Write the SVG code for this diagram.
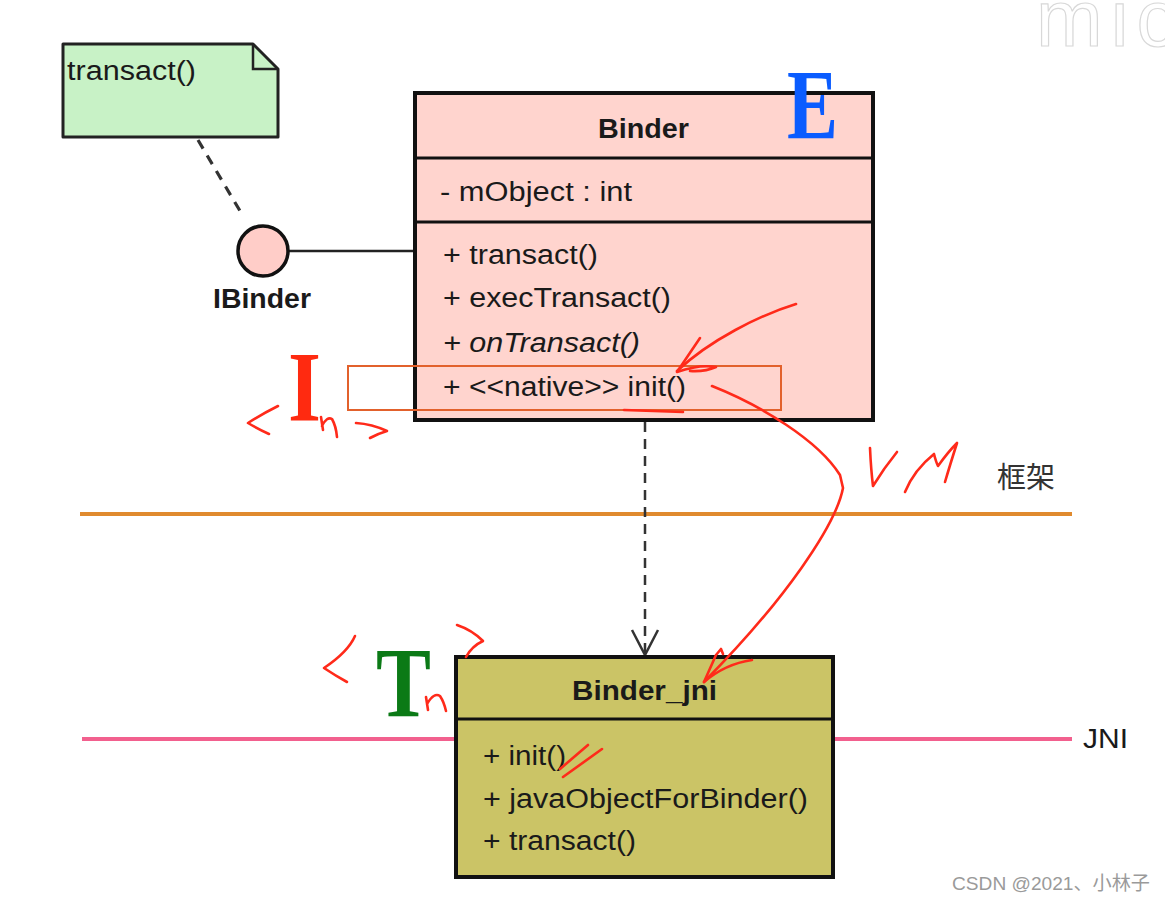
<svg xmlns="http://www.w3.org/2000/svg" width="1165" height="902" viewBox="0 0 1165 902">
<defs>
<style>
.t{font-family:"Liberation Sans",Arial,sans-serif;font-size:27px;fill:#1a1a1a}
.b{font-weight:bold}
.box{stroke:#111;stroke-width:4}
.sep{stroke:#111;stroke-width:3}
.ink{fill:none;stroke:#ff2a1a;stroke-width:2.6;stroke-linecap:round;stroke-linejoin:round}
.big{font-family:"Liberation Serif","Times New Roman",serif;font-weight:bold;font-size:100px}
</style>
</defs>
<rect width="1165" height="902" fill="#ffffff"/>

<g id="watermark">
<text x="1036" y="46" font-family="Liberation Sans,Arial,sans-serif" font-size="80" letter-spacing="8" fill="#ffffff" stroke="#d8d8d8" stroke-width="1.2">mic</text>
<text x="952" y="890" font-family="Liberation Sans,Arial,'Noto Sans CJK SC',sans-serif" font-size="19" fill="#9a9a9a" textLength="198" lengthAdjust="spacingAndGlyphs">CSDN @2021、小林子</text>
</g>

<g id="layers">
<line x1="80" y1="514" x2="1072" y2="514" stroke="#e08a2e" stroke-width="4"/>
<text x="997" y="488" font-family="'Noto Sans CJK SC',sans-serif" font-size="29" fill="#333">框架</text>
<line x1="82" y1="739" x2="1072" y2="739" stroke="#f2608e" stroke-width="4"/>
<text class="t" x="1083" y="748" textLength="45" lengthAdjust="spacingAndGlyphs">JNI</text>
</g>

<g id="connectors">
<line x1="198" y1="140" x2="243" y2="216" stroke="#333" stroke-width="3.2" stroke-dasharray="10,8"/>
<line x1="289" y1="251" x2="415" y2="251" stroke="#222" stroke-width="2.5"/>
<line x1="645" y1="422" x2="645" y2="654" stroke="#333" stroke-width="2.5" stroke-dasharray="10,7"/>
<polyline points="632,630 645,655 658,630" fill="none" stroke="#333" stroke-width="2.5"/>
</g>

<g id="note">
<path d="M63,44 L253,44 L278,69 L278,137 L63,137 Z" fill="#c8f2c6" stroke="#222" stroke-width="3" stroke-linejoin="round"/>
<path d="M253,44 L253,69 L278,69" fill="none" stroke="#222" stroke-width="2.5"/>
<text class="t" x="67" y="80" font-size="28" textLength="129" lengthAdjust="spacingAndGlyphs">transact()</text>
</g>

<g id="ibinder">
<circle cx="263" cy="251" r="25" fill="#ffcdc8" stroke="#111" stroke-width="3.5"/>
<text class="t b" x="213" y="308" textLength="98" lengthAdjust="spacingAndGlyphs">IBinder</text>
</g>

<g id="binder">
<rect class="box" x="415" y="93" width="458" height="327" fill="#ffd4ce"/>
<line class="sep" x1="415" y1="158" x2="873" y2="158"/>
<line class="sep" x1="415" y1="222" x2="873" y2="222"/>
<text class="t b" x="598" y="138" textLength="91" lengthAdjust="spacingAndGlyphs">Binder</text>
<text class="t" x="440" y="201" textLength="192" lengthAdjust="spacingAndGlyphs">- mObject : int</text>
<text class="t" x="443" y="264" textLength="155" lengthAdjust="spacingAndGlyphs">+ transact()</text>
<text class="t" x="443" y="307" textLength="228" lengthAdjust="spacingAndGlyphs">+ execTransact()</text>
<text class="t" x="443" y="352" font-style="italic" textLength="197" lengthAdjust="spacingAndGlyphs">+ onTransact()</text>
<text class="t" x="443" y="396" textLength="243" lengthAdjust="spacingAndGlyphs">+ &lt;&lt;native&gt;&gt; init()</text>
</g>

<g id="binder_jni">
<rect class="box" x="456" y="657" width="377" height="220" fill="#cbc466"/>
<line class="sep" x1="456" y1="719" x2="833" y2="719"/>
<text class="t b" x="572" y="700" textLength="145" lengthAdjust="spacingAndGlyphs">Binder_jni</text>
<text class="t" x="483" y="765" textLength="83" lengthAdjust="spacingAndGlyphs">+ init()</text>
<text class="t" x="483" y="808" textLength="325" lengthAdjust="spacingAndGlyphs">+ javaObjectForBinder()</text>
<text class="t" x="483" y="850" textLength="153" lengthAdjust="spacingAndGlyphs">+ transact()</text>
</g>

<g id="annotations">
<text class="big" x="787" y="138" fill="#0a5cff" textLength="51" lengthAdjust="spacingAndGlyphs">E</text>
<text class="big" x="288" y="420" fill="#ff2a10" textLength="33" lengthAdjust="spacingAndGlyphs">I</text>
<text class="big" x="376" y="716" fill="#0b7a16" textLength="55" lengthAdjust="spacingAndGlyphs">T</text>
<rect x="348" y="366" width="433" height="44" fill="none" stroke="#e2612c" stroke-width="2"/>
<path class="ink" d="M278,406 Q262,414 248,423 Q258,429 269,434"/>
<path class="ink" d="M321,417 L323,430 M322,426 Q327,416 332,419 Q336,426 337,437"/>
<path class="ink" d="M356,423 Q372,424 387,431 Q377,434 370,438"/>
<path class="ink" d="M355,636 Q348,652 324,668 Q336,676 347,682"/>
<path class="ink" d="M426,697 L428,710 M427,704 Q434,692 440,696 Q444,702 446,711"/>
<path class="ink" d="M457,625 Q472,630 483,641 Q472,646 466,657"/>
<path class="ink" d="M796,304 C760,315 710,340 677,371"/>
<path class="ink" d="M700,338 L677,372 Q700,364 716,367 Q705,372 690,371"/>
<path class="ink" d="M624,410 L683,412"/>
<path class="ink" d="M712,386 C760,405 818,440 840,475 L843,488 C836,525 785,600 704,682"/>
<path class="ink" d="M704,682 L716,655 L721,649 L723,654 M704,682 Q725,664 752,660"/>
<path class="ink" d="M870,448 Q871,470 873,486 Q884,468 897,452"/>
<path class="ink" d="M905,492 Q914,470 934,454 Q936,462 938,466 Q948,452 957,443 Q950,465 945,482"/>
<path class="ink" d="M560,769 L588,745 M563,777 L602,749"/>
</g>
</svg>
